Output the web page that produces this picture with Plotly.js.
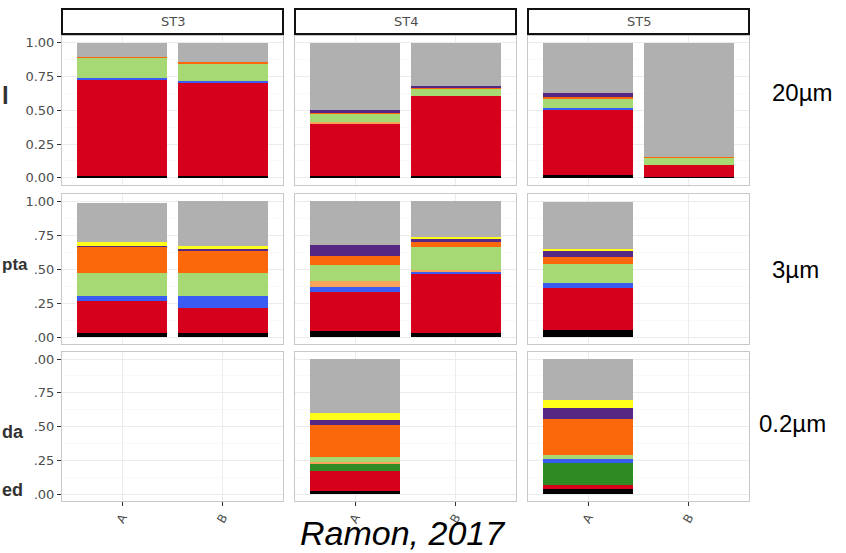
<!DOCTYPE html>
<html>
<head>
<meta charset="utf-8">
<script src="https://cdn.plot.ly/plotly-3.0.1.min.js"></script>
<style>html,body{margin:0;padding:0;background:#fff;}#chart{width:846px;height:553px;}</style>
</head>
<body>
<div id="chart"></div>
<script>
// ---- data ----
const samples = ['A', 'B'];
const stations = ['ST3', 'ST4', 'ST5'];
const fractions = ['20µm', '3µm', '0.2µm'];
const seriesNames = ['Group 1', 'Group 2', 'Group 3', 'Group 4', 'Group 5', 'Group 6', 'Group 7', 'Group 8', 'Group 9', 'Group 10'];
const seriesColors = ['#000000', '#d6001c', '#2e8b24', '#3a5cf2', '#f8a35a', '#a6d874', '#fb680c', '#562883', '#ffff1a', '#b0b0b0'];
// each row = size fraction; within a row: ST3 A, ST3 B, ST4 A, ST4 B, ST5 A, ST5 B
const g1 = [[0.010, 0.010, 0.010, 0.010, 0.020, 0.003], [0.030, 0.030, 0.045, 0.032, 0.050, null], [null, null, 0.025, null, 0.037, null]];
const g2 = [[0.715, 0.690, 0.390, 0.597, 0.485, 0.093], [0.235, 0.180, 0.285, 0.433, 0.310, null], [null, null, 0.145, null, 0.030, null]];
const g3 = [[0, 0, 0, 0, 0, 0], [0, 0, 0, 0, 0, null], [null, null, 0.050, null, 0.160, null]];
const g4 = [[0.013, 0.020, 0, 0, 0.008, 0], [0.040, 0.095, 0.035, 0.015, 0.040, null], [null, null, 0, null, 0.030, null]];
const g5 = [[0, 0, 0.010, 0, 0, 0], [0, 0, 0.045, 0.010, 0, null], [null, null, 0.020, null, 0, null]];
const g6 = [[0.146, 0.120, 0.060, 0.050, 0.068, 0.050], [0.167, 0.167, 0.120, 0.170, 0.135, null], [null, null, 0.036, null, 0.032, null]];
const g7 = [[0.012, 0.020, 0.010, 0.005, 0.020, 0.009], [0.190, 0.160, 0.065, 0.036, 0.055, null], [null, null, 0.233, null, 0.264, null]];
const g8 = [[0, 0, 0.025, 0.020, 0.025, 0], [0.010, 0.015, 0.085, 0.024, 0.045, null], [null, null, 0.039, null, 0.082, null]];
const g9 = [[0, 0, 0, 0, 0, 0], [0.025, 0.020, 0, 0.017, 0.012, null], [null, null, 0.050, null, 0.065, null]];
const g10 = [[0.104, 0.140, 0.495, 0.318, 0.374, 0.845], [0.290, 0.330, 0.320, 0.263, 0.348, null], [null, null, 0.400, null, 0.300, null]];
const seriesData = [g1, g2, g3, g4, g5, g6, g7, g8, g9, g10];
const yTicks = [0, 0.25, 0.5, 0.75, 1];
const yMinor = [0.125, 0.375, 0.625, 0.875];

// ---- geometry (pixels) ----
const W = 846, H = 553;
const colX = [[62, 283], [295, 516], [528, 749]];
const rowY = [[36, 184.5], [194.2, 343.8], [352.3, 500.8]];
const px = v => v / W;
const py = v => 1 - v / H;

const traces = [];
const layout = {
  width: W, height: H,
  margin: {l: 0, r: 0, t: 0, b: 0},
  paper_bgcolor: '#ffffff', plot_bgcolor: '#ffffff',
  barmode: 'stack', bargap: 0.1, showlegend: false,
  font: {family: 'DejaVu Sans, Liberation Sans, sans-serif', color: '#4d4d4d', size: 11},
  shapes: [], annotations: []
};

for (let r = 0; r < 3; r++) {
  for (let c = 0; c < 3; c++) {
    const idx = r * 3 + c + 1;
    const xn = 'x' + (idx === 1 ? '' : idx), yn = 'y' + (idx === 1 ? '' : idx);
    const xk = 'xaxis' + (idx === 1 ? '' : idx), yk = 'yaxis' + (idx === 1 ? '' : idx);
    layout[xk] = {
      domain: [px(colX[c][0]), px(colX[c][1])], anchor: yn,
      type: 'category', categoryorder: 'array', categoryarray: samples,
      range: [-0.6, 1.6], fixedrange: true,
      showgrid: true, gridcolor: '#ebebeb', gridwidth: 1,
      showline: true, mirror: true, linecolor: '#c8c8c8', linewidth: 1, zeroline: false,
      ticks: r === 2 ? 'outside' : '', ticklen: 4, tickcolor: '#333333', tickwidth: 1,
      showticklabels: r === 2, tickangle: -60,
      tickfont: {family: 'DejaVu Sans, sans-serif', size: 12, color: '#4d4d4d'}
    };
    layout[yk] = {
      domain: [py(rowY[r][1]), py(rowY[r][0])], anchor: xn,
      range: [-0.05, 1.05], fixedrange: true,
      tickvals: yTicks, tickformat: '.2f',
      showgrid: true, gridcolor: '#ebebeb', gridwidth: 1,
      minor: {tickvals: yMinor, showgrid: true, gridcolor: '#f5f5f5', gridwidth: 0.6, ticks: ''},
      showline: true, mirror: true, linecolor: '#c8c8c8', linewidth: 1, zeroline: false,
      ticks: c === 0 ? 'outside' : '', ticklen: 4, tickcolor: '#333333', tickwidth: 1,
      showticklabels: c === 0,
      tickfont: {family: 'DejaVu Sans, sans-serif', size: 13, color: '#4d4d4d'}
    };
    seriesData.forEach((arr, s) => {
      traces.push({
        type: 'bar', name: seriesNames[s], x: samples,
        y: [arr[r][2 * c], arr[r][2 * c + 1]],
        xaxis: xn, yaxis: yn,
        marker: {color: seriesColors[s], line: {width: 0}},
        hovertemplate: stations[c] + ' ' + fractions[r] + ' %{x}: %{y}<extra>' + seriesNames[s] + '</extra>'
      });
    });
  }
}

// strips (top row only)
stations.forEach((st, c) => {
  layout.shapes.push({type: 'rect', xref: 'paper', yref: 'paper', layer: 'above',
    x0: px(colX[c][0]), x1: px(colX[c][1]), y0: py(34), y1: py(9),
    line: {color: '#111111', width: 2}, fillcolor: '#ffffff'});
  layout.annotations.push({xref: 'paper', yref: 'paper', x: px((colX[c][0] + colX[c][1]) / 2), y: py(21.5),
    text: st, showarrow: false, xanchor: 'center', yanchor: 'middle',
    font: {family: 'DejaVu Sans, sans-serif', size: 13, color: '#4d4d4d'}});
});

// white cover on left (cropped legend area)
layout.shapes.push({type: 'rect', xref: 'paper', yref: 'paper', layer: 'above',
  x0: 0, x1: px(35), y0: py(512), y1: py(226), line: {width: 0}, fillcolor: '#ffffff'});

// right-side row labels
const rowLabelY = [92, 269, 423];
fractions.forEach((f, r) => {
  layout.annotations.push({xref: 'paper', yref: 'paper', x: px(r === 2 ? 757 : 770), y: py(rowLabelY[r]),
    text: f, showarrow: false, xanchor: 'left', yanchor: 'middle',
    font: {family: 'Liberation Sans, Arial, sans-serif', size: 24, color: '#000000'}});
});

// cropped left labels
const leftFrag = [['l', 0, 96, 24], ['pta', 0, 264, 17], ['da', 0, 432, 18], ['ed', 0, 490, 18]];
leftFrag.forEach(([t, x, y, s]) => {
  layout.annotations.push({xref: 'paper', yref: 'paper', x: px(x), y: py(y),
    text: '<b>' + t + '</b>', showarrow: false, xanchor: 'left', yanchor: 'middle',
    font: {family: 'Liberation Sans, Arial, sans-serif', size: s, color: '#333333'}});
});

// citation
layout.annotations.push({xref: 'paper', yref: 'paper', x: px(402), y: py(533),
  text: '<i>Ramon, 2017</i>', showarrow: false, xanchor: 'center', yanchor: 'middle',
  font: {family: 'Liberation Sans, Arial, sans-serif', size: 34, color: '#000000'}});

Plotly.newPlot('chart', traces, layout, {displayModeBar: false, staticPlot: true});
</script>
</body>
</html>
